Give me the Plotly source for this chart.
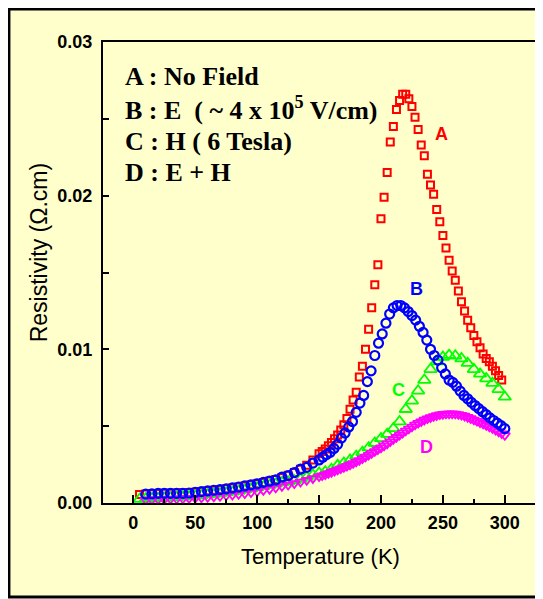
import plotly.graph_objects as go

# ---------------- data ----------------
temp_A = [5, 10, 15, 20, 25, 30, 35, 40, 45, 50, 55, 60, 65, 70, 75, 80, 85, 90, 95, 100,
          105, 110, 115, 120, 125, 130, 135, 140, 145,
          150, 152.5, 155, 157.5, 160, 162.5, 165, 167.5, 170, 172.5, 175, 177.5, 180, 182.5,
          185, 187.5, 190, 192.5, 195, 197.5, 200, 202.5, 205, 207.5, 210, 212.5, 215, 217.5,
          220, 222.5, 225, 227.5, 230, 232.5, 235, 237.5, 240, 242.5, 245, 247.5, 250, 252.5,
          255, 257.5, 260, 262.5, 265, 267.5, 270, 272.5, 275, 277.5, 280, 282.5, 285, 287.5,
          290, 292.5, 295, 297.5]
rho_A = [0.00055, 0.00058, 0.00060, 0.00062, 0.00063, 0.00064, 0.00065, 0.00066, 0.00068, 0.00070,
         0.00074, 0.00079, 0.00083, 0.00088, 0.00092, 0.00098, 0.00104, 0.00110, 0.00118, 0.00125,
         0.00134, 0.00143, 0.00153, 0.00166, 0.00180, 0.00198, 0.00220, 0.00245, 0.00280,
         0.00320, 0.00335, 0.00352, 0.00372, 0.00394, 0.00418, 0.00443, 0.00475, 0.00510, 0.00550,
         0.00610, 0.00670, 0.00720, 0.00820, 0.00890, 0.01000, 0.01130, 0.01270, 0.01420, 0.01550,
         0.01850, 0.01990, 0.02150, 0.02350, 0.02450, 0.02560, 0.02620, 0.02660, 0.02660, 0.02630,
         0.02580, 0.02510, 0.02430, 0.02330, 0.02260, 0.02140, 0.02070, 0.02010, 0.01910, 0.01830,
         0.01740, 0.01660, 0.01580, 0.01510, 0.01450, 0.01380, 0.01310, 0.01250, 0.01190, 0.01140,
         0.01090, 0.01050, 0.01010, 0.00970, 0.00940, 0.00920, 0.00890, 0.00860, 0.00830, 0.00800]

temp_B = [10, 15, 20, 25, 30, 35, 40, 45, 50, 55, 60, 65, 70, 75, 80, 85, 90, 95, 100, 105,
          110, 115, 120, 125, 130, 135, 140, 145,
          150, 153, 156, 159, 162, 165, 168, 171, 174, 177, 180, 183, 186, 189, 192, 195, 198,
          201, 204, 207, 210, 213, 216, 219, 222, 225, 228, 231, 234, 237, 240, 243, 246, 249,
          252, 255, 258, 261, 264, 267, 270, 273, 276, 279, 282, 285, 288, 291, 294, 297, 300]
rho_B = [0.00058, 0.00060, 0.00063, 0.00063, 0.00063, 0.00063, 0.00063, 0.00065, 0.00070, 0.00074,
         0.00079, 0.00083, 0.00087, 0.00092, 0.00098, 0.00104, 0.00111, 0.00118, 0.00125, 0.00134,
         0.00142, 0.00150, 0.00168, 0.00178, 0.00198, 0.00220, 0.00232, 0.00260,
         0.00280, 0.00298, 0.00315, 0.00330, 0.00355, 0.00382, 0.00422, 0.00455, 0.00495, 0.00530,
         0.00590, 0.00650, 0.00700, 0.00790, 0.00860, 0.00960, 0.01040, 0.01100, 0.01170, 0.01230,
         0.01270, 0.01285, 0.01285, 0.01270, 0.01246, 0.01220, 0.01190, 0.01150, 0.01110, 0.01060,
         0.01000, 0.00960, 0.00930, 0.00880, 0.00840, 0.00800, 0.00785, 0.00760, 0.00728, 0.00700,
         0.00678, 0.00655, 0.00634, 0.00614, 0.00594, 0.00575, 0.00554, 0.00537, 0.00520, 0.00503,
         0.00484]

temp_C = [5, 10, 15, 20, 25, 30, 35, 40, 45, 50, 55, 60, 65, 70, 75, 80, 85, 90, 95, 100,
          105, 110, 115, 120, 125, 130, 135, 140, 145, 150, 155, 160, 165, 170, 175, 180, 185,
          190, 195, 200, 205, 210, 215, 220, 225, 230, 235, 240, 245, 250, 255, 260, 265, 270,
          275, 280, 285, 290, 295, 300]
rho_C = [0.00025, 0.00027, 0.00029, 0.00031, 0.00033, 0.00035, 0.00037, 0.00040, 0.00043, 0.00046,
         0.00050, 0.00054, 0.00058, 0.00062, 0.00067, 0.00072, 0.00078, 0.00085, 0.00092, 0.00100,
         0.00108, 0.00116, 0.00124, 0.00133, 0.00138, 0.00145, 0.00155, 0.00168, 0.00182, 0.00195,
         0.00204, 0.00220, 0.00245, 0.00260, 0.00280, 0.00305, 0.00330, 0.00360, 0.00390, 0.00420,
         0.00448, 0.00485, 0.00530, 0.00610, 0.00665, 0.00730, 0.00800, 0.00870, 0.00920, 0.00950,
         0.00962, 0.00958, 0.00940, 0.00910, 0.00870, 0.00840, 0.00810, 0.00780, 0.00740, 0.00690]

temp_D = [10, 15, 20, 25, 30, 35, 40, 45, 50, 55, 60, 65, 70, 75, 80, 85, 90, 95, 100, 105,
          110, 115, 120, 125, 130, 135, 140, 145,
          150, 152.5, 155, 157.5, 160, 162.5, 165, 167.5, 170, 172.5, 175, 177.5, 180, 182.5,
          185, 187.5, 190, 192.5, 195, 197.5, 200, 202.5, 205, 207.5, 210, 212.5, 215, 217.5,
          220, 222.5, 225, 227.5, 230, 232.5, 235, 237.5, 240, 242.5, 245, 247.5, 250, 252.5,
          255, 257.5, 260, 262.5, 265, 267.5, 270, 272.5, 275, 277.5, 280, 282.5, 285, 287.5,
          290, 292.5, 295, 297.5, 300]
rho_D = [0.00020, 0.00021, 0.00022, 0.00023, 0.00025, 0.00026, 0.00028, 0.00030, 0.00032, 0.00034,
         0.00037, 0.00040, 0.00044, 0.00048, 0.00052, 0.00057, 0.00062, 0.00068, 0.00075, 0.00082,
         0.00090, 0.00099, 0.00108, 0.00117, 0.00127, 0.00137, 0.00148, 0.00160,
         0.00172, 0.00178, 0.00185, 0.00193, 0.00200, 0.00208, 0.00216, 0.00224, 0.00232, 0.00240,
         0.00249, 0.00258, 0.00268, 0.00278, 0.00289, 0.00300, 0.00312, 0.00324, 0.00336, 0.00348,
         0.00360, 0.00373, 0.00386, 0.00400, 0.00414, 0.00428, 0.00442, 0.00456, 0.00470, 0.00483,
         0.00496, 0.00509, 0.00520, 0.00530, 0.00540, 0.00549, 0.00557, 0.00564, 0.00570, 0.00575,
         0.00578, 0.00580, 0.00581, 0.00581, 0.00580, 0.00577, 0.00572, 0.00566, 0.00558, 0.00550,
         0.00541, 0.00533, 0.00524, 0.00515, 0.00506, 0.00496, 0.00486, 0.00475, 0.00464, 0.00452,
         0.00440]

x_ticks = [0, 50, 100, 150, 200, 250, 300]
y_ticks = [0.0, 0.01, 0.02, 0.03]
y_tick_text = ["0.00", "0.01", "0.02", "0.03"]

legend_lines = ["A : No Field",
                "B : E  ( ~ 4 x 10<sup>5</sup> V/cm)",
                "C : H ( 6 Tesla)",
                "D : E + H"]
curve_labels = ["A", "B", "C", "D"]
curve_label_x = [249, 229, 214.5, 237]
curve_label_y = [0.0240, 0.0139, 0.00736, 0.00365]
colors = ["#FF0000", "#0000FF", "#00FF00", "#FF00FF"]

# ---------------- figure ----------------
BG = "#FFFFCC"
OFF = 8  # page body margin
fig = go.Figure()

fig.add_trace(go.Scatter(x=temp_A, y=rho_A, mode="markers", name="A",
                         marker=dict(symbol="square-open", size=7, color=colors[0],
                                     line=dict(width=2, color=colors[0]))))
fig.add_trace(go.Scatter(x=temp_C, y=rho_C, mode="markers", name="C",
                         marker=dict(symbol="triangle-up-open", size=11, color=colors[2],
                                     line=dict(width=1.8, color=colors[2]))))
fig.add_trace(go.Scatter(x=temp_D, y=rho_D, mode="markers", name="D",
                         marker=dict(symbol="triangle-down-open", size=9, color=colors[3],
                                     line=dict(width=1.8, color=colors[3]))))
fig.add_trace(go.Scatter(x=temp_B, y=rho_B, mode="markers", name="B",
                         marker=dict(symbol="circle-open", size=9, color=colors[1],
                                     line=dict(width=2.2, color=colors[1]))))

tickfont = dict(family="Liberation Sans, Arial, sans-serif", size=18, color="black", weight="bold")

fig.update_xaxes(range=[-24.5, 326], showgrid=False, zeroline=False,
                 showline=True, linewidth=2, linecolor="black", mirror=True,
                 ticks="inside", ticklen=8, tickwidth=2, tickcolor="black",
                 tickvals=x_ticks, tickfont=tickfont, ticklabelstandoff=2,
                 minor=dict(ticks="inside", ticklen=4, tickwidth=2, tickcolor="black", dtick=25))
fig.update_yaxes(range=[0, 0.03], showgrid=False, zeroline=False,
                 showline=True, linewidth=2, linecolor="black", mirror=True,
                 ticks="inside", ticklen=6, tickwidth=2, tickcolor="black",
                 tickvals=y_ticks, ticktext=y_tick_text, tickfont=tickfont, ticklabelstandoff=5,
                 minor=dict(ticks="inside", ticklen=6, tickwidth=2, tickcolor="black", dtick=0.005))

# target page-pixel geometry of the plot area: left 103, right 539, top 42, bottom 503
W, H = 543 - OFF, 599 - OFF
L = 103 - OFF
T = 42 - OFF
R = W - (539 - OFF)
B = H - (503 - OFF)
pw, ph = W - L - R, H - T - B


def px_to_paper(px, py):
    """convert page pixel position to paper coordinates"""
    fx, fy = px - OFF, py - OFF
    return (fx - L) / pw, (H - B - fy) / ph


annotations = []
legend_py = [76, 109, 141, 173]
for txt, py in zip(legend_lines, legend_py):
    xp, yp = px_to_paper(123, py)
    annotations.append(dict(x=xp, y=yp, xref="paper", yref="paper", text="<b>" + txt + "</b>",
                            showarrow=False, xanchor="left", yanchor="middle",
                            font=dict(family="Liberation Serif, Times New Roman, serif",
                                      size=26, color="black")))
for lab, lx, ly, c in zip(curve_labels, curve_label_x, curve_label_y, colors):
    annotations.append(dict(x=lx, y=ly, xref="x", yref="y", text="<b>" + lab + "</b>",
                            showarrow=False, xanchor="center", yanchor="middle",
                            font=dict(family="Liberation Sans, Arial, sans-serif", size=18, color=c)))
xp, yp = px_to_paper(321, 556)
annotations.append(dict(x=xp, y=yp, xref="paper", yref="paper", text="Temperature (K)",
                        showarrow=False, xanchor="center", yanchor="middle",
                        font=dict(family="Liberation Sans, Arial, sans-serif", size=22, color="black")))
xp, yp = px_to_paper(39, 253)
annotations.append(dict(x=xp, y=yp, xref="paper", yref="paper", text="Resistivity (\u03a9.cm)",
                        showarrow=False, xanchor="center", yanchor="middle", textangle=-90,
                        font=dict(family="Liberation Sans, Arial, sans-serif", size=23, color="black")))

x0, y0 = px_to_paper(8.5, 597)
x1, y1 = px_to_paper(560, 9)
fig.update_layout(
    width=W, height=H,
    margin=dict(l=L, r=R, t=T, b=B),
    paper_bgcolor="white", plot_bgcolor=BG,
    showlegend=False,
    annotations=annotations,
    shapes=[dict(type="rect", xref="paper", yref="paper", x0=x0, y0=y0, x1=x1, y1=y1,
                 fillcolor=BG, line=dict(color="black", width=3), layer="below")],
)

fig.write_html("out.html")
